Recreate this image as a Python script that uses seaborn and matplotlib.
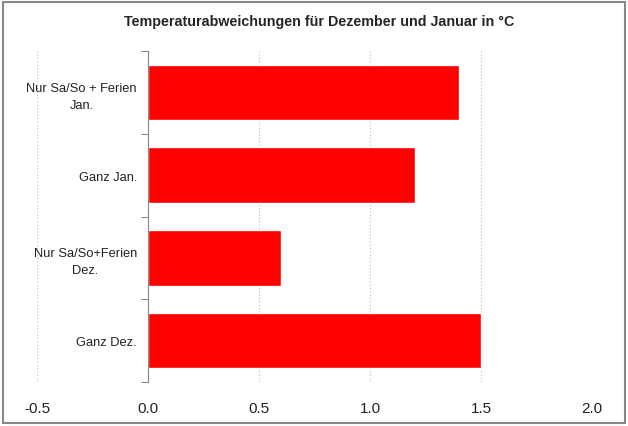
import matplotlib
matplotlib.use("Agg")
import matplotlib.pyplot as plt
import seaborn as sns
import pandas as pd
from matplotlib.patches import Rectangle
from matplotlib.ticker import FixedLocator

# Data
categories = ["Nur Sa/So + Ferien\nJan.", "Ganz Jan.", "Nur Sa/So+Ferien\nDez.", "Ganz Dez."]
values = [1.4, 1.2, 0.6, 1.5]
x_ticks = [-0.5, 0.0, 0.5, 1.0, 1.5, 2.0]

df = pd.DataFrame({"cat": categories, "val": values})

sns.set_style("white")
plt.rcParams["font.family"] = ["Liberation Sans", "DejaVu Sans"]

fig = plt.figure(figsize=(6.28, 4.27), dpi=100)
ax = fig.add_axes([0.059, 0.103, 0.884, 0.775])

sns.barplot(data=df, x="val", y="cat", orient="h", color="#ff0000",
            saturation=1, width=0.67, ax=ax, order=categories)

ax.set_xlim(-0.5, 2.0)
ax.set_ylim(3.5, -0.5)
ax.set_xticks(x_ticks)
ax.set_xticklabels([f"{t:.1f}" for t in x_ticks], fontsize=11, color="#222222")
ax.xaxis.grid(True, linestyle=(0, (1, 2)), color="#bbbbbb", linewidth=0.8)
ax.set_axisbelow(True)
ax.tick_params(axis="x", length=0, pad=14)

# y axis sits at x=0
for s in ["top", "right", "bottom"]:
    ax.spines[s].set_visible(False)
ax.spines["left"].set_position(("data", 0))
ax.spines["left"].set_color("#888888")
ax.spines["left"].set_linewidth(0.8)
ax.yaxis.set_minor_locator(FixedLocator([-0.5, 0.5, 1.5, 2.5, 3.5]))
ax.tick_params(axis="y", which="major", left=False, length=0, pad=8,
               labelsize=9.3, labelcolor="#222222")
ax.tick_params(axis="y", which="minor", left=True, length=5, color="#888888", width=0.8)
for lbl in ax.get_yticklabels():
    lbl.set_horizontalalignment("right")
    lbl.set_multialignment("center")
    lbl.set_linespacing(1.55)

ax.set_xlabel("")
ax.set_ylabel("")

fig.text(0.508, 0.948, "Temperaturabweichungen für Dezember und Januar in °C",
         ha="center", va="center", fontsize=10.3, fontweight="bold")

fig.patches.append(Rectangle((0.005, 0.008), 0.99, 0.986, transform=fig.transFigure,
                             fill=False, edgecolor="#888888", linewidth=1.5))

fig.savefig("out.png", dpi=100)
